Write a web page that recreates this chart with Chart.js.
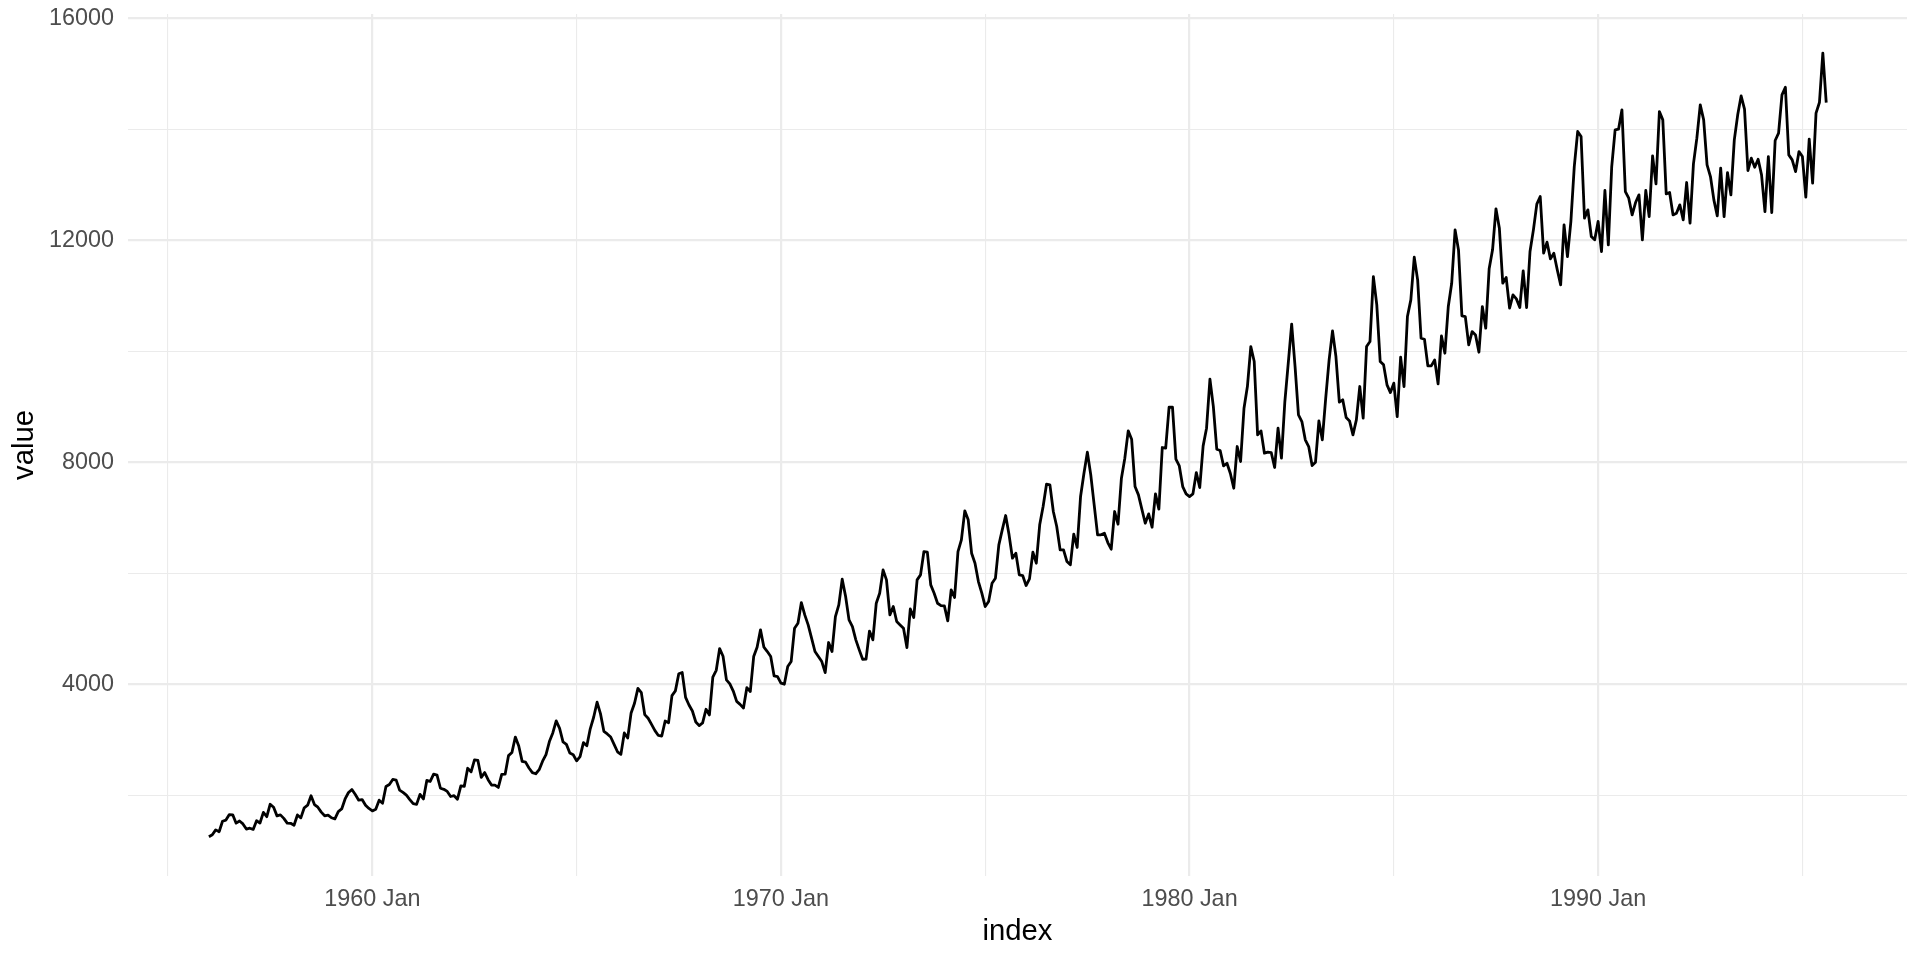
<!DOCTYPE html>
<html>
<head>
<meta charset="utf-8">
<script src="https://cdn.jsdelivr.net/npm/chart.js@4.4.1/dist/chart.umd.min.js"></script>
<style>
  html, body { margin: 0; padding: 0; background: #ffffff; }
  #wrap { width: 1920px; height: 960px; }
</style>
</head>
<body>
<div id="wrap"><canvas id="c" width="1920" height="960"></canvas></div>
<script>
// Monthly series, starting January 1956
const startYear = 1956;
const elecValues = [
  1254, 1290, 1379, 1346, 1535, 1555, 1655, 1651, 1500, 1538, 1486, 1394,
  1409, 1387, 1543, 1502, 1693, 1616, 1841, 1787, 1631, 1649, 1586, 1500,
  1497, 1463, 1648, 1595, 1777, 1824, 1994, 1835, 1787, 1699, 1633, 1645,
  1597, 1577, 1709, 1756, 1936, 2052, 2105, 2016, 1914, 1925, 1824, 1765,
  1721, 1752, 1914, 1857, 2159, 2195, 2287, 2276, 2096, 2055, 2004, 1924,
  1851, 1839, 2019, 1937, 2270, 2251, 2382, 2364, 2129, 2110, 2072, 1980,
  1995, 1932, 2171, 2162, 2489, 2424, 2641, 2630, 2324, 2412, 2284, 2186,
  2184, 2144, 2379, 2383, 2717, 2774, 3051, 2891, 2613, 2600, 2493, 2410,
  2390, 2463, 2616, 2734, 2970, 3125, 3342, 3207, 2964, 2919, 2764, 2732,
  2622, 2698, 2950, 2895, 3200, 3408, 3679, 3473, 3154, 3107, 3052, 2918,
  2786, 2739, 3125, 3033, 3486, 3661, 3927, 3851, 3456, 3390, 3280, 3166,
  3080, 3069, 3340, 3310, 3798, 3883, 4191, 4213, 3766, 3628, 3520, 3323,
  3257, 3305, 3552, 3450, 4131, 4254, 4645, 4507, 4081, 4010, 3880, 3693,
  3640, 3575, 3943, 3871, 4502, 4670, 4982, 4670, 4592, 4502, 4153, 4141,
  4021, 4003, 4321, 4411, 5012, 5102, 5474, 5252, 5072, 4832, 4592, 4502,
  4411, 4213, 4754, 4592, 5222, 5432, 5895, 5582, 5162, 5042, 4802, 4622,
  4453, 4455, 4960, 4802, 5462, 5643, 6063, 5883, 5252, 5402, 5132, 5072,
  5012, 4664, 5360, 5204, 5883, 5973, 6393, 6381, 5793, 5643, 5462, 5420,
  5414, 5144, 5703, 5565, 6393, 6603, 7126, 6964, 6363, 6183, 5853, 5643,
  5402, 5492, 5823, 5913, 6513, 6784, 7042, 6694, 6273, 6363, 5973, 5961,
  5781, 5901, 6381, 6183, 6874, 7204, 7606, 7594, 7114, 6844, 6423, 6423,
  6213, 6153, 6706, 6466, 7384, 7804, 8183, 7774, 7234, 6694, 6694, 6724,
  6555, 6435, 7114, 6885, 7714, 8075, 8567, 8417, 7564, 7414, 7156, 6903,
  7072, 6831, 7432, 7156, 8267, 8255, 8993, 8993, 8057, 7936, 7564, 7432,
  7384, 7432, 7816, 7546, 8297, 8615, 9498, 9005, 8237, 8213, 7936, 7984,
  7800, 7534, 8285, 8015, 8975, 9366, 10086, 9816, 8495, 8567, 8165, 8183,
  8177, 7907, 8615, 8075, 9096, 9786, 10489, 9726, 8855, 8735, 8405, 8285,
  7943, 8003, 8747, 8405, 9156, 9846, 10369, 9906, 9084, 9126, 8807, 8747,
  8495, 8765, 9366, 8795, 10086, 10176, 11347, 10837, 9816, 9756, 9396, 9257,
  9426, 8825, 9894, 9366, 10627, 10927, 11695, 11287, 10236, 10218, 9738, 9738,
  9846, 9414, 10278, 9966, 10807, 11227, 12188, 11827, 10638, 10626, 10116, 10356,
  10296, 9984, 10807, 10417, 11486, 11828, 12567, 12218, 11227, 11330, 10777, 11017,
  10945, 10789, 11450, 10789, 11798, 12188, 12651, 12789, 11768, 11966, 11666, 11768,
  11468, 11197, 12278, 11708, 12338, 13329, 13960, 13870, 12398, 12549, 12068, 12008,
  12340, 11798, 12897, 11918, 13329, 13990, 14002, 14350, 12879, 12759, 12458, 12681,
  12819, 12008, 12897, 12429, 13521, 13017, 14320, 14170, 12837, 12861, 12458, 12488,
  12638, 12368, 13041, 12308, 13377, 13840, 14440, 14170, 13359, 13149, 12729, 12440,
  13299, 12428, 13221, 12819, 13810, 14260, 14602, 14362, 13257, 13479, 13317, 13461,
  13179, 12518, 13509, 12500, 13798, 13930, 14620, 14758, 13539, 13449, 13239, 13599,
  13509, 12777, 13822, 13029, 14290, 14482, 15371, 14482
];

// Axis ticks
const xTickValues = [1955, 1960, 1965, 1970, 1975, 1980, 1985, 1990, 1995];
const xTickLabels = ['', '1960 Jan', '', '1970 Jan', '', '1980 Jan', '', '1990 Jan', ''];
const yTickValues = [2000, 4000, 6000, 8000, 10000, 12000, 14000, 16000];
const yTickLabels = ['', '4000', '', '8000', '', '12000', '', '16000'];

// Axis limits (data range plus 5% expansion on each side)
const xMin = 1954.02, xMax = 1997.56;
const yMin = 548, yMax = 16077;

const points = elecValues.map((v, i) => ({ x: startYear + i / 12, y: v }));

const tickFont = { family: "'Liberation Sans', Arial, sans-serif", size: 23.4 };
const titleFont = { family: "'Liberation Sans', Arial, sans-serif", size: 29.3 };

function noOverhang(s) {
  s.paddingTop = 0; s.paddingBottom = 0; s.paddingLeft = 0; s.paddingRight = 0;
}

new Chart(document.getElementById('c'), {
  type: 'line',
  data: {
    datasets: [{
      data: points,
      borderColor: '#000000',
      borderWidth: 2.8,
      pointRadius: 0,
      tension: 0,
      fill: false,
      borderJoinStyle: 'round'
    }]
  },
  options: {
    responsive: false,
    animation: false,
    devicePixelRatio: 1,
    layout: { padding: { left: 0, right: 13, top: 14, bottom: 0 } },
    plugins: { legend: { display: false }, tooltip: { enabled: false } },
    scales: {
      x: {
        type: 'linear',
        min: xMin, max: xMax,
        afterBuildTicks: ax => { ax.ticks = xTickValues.map(v => ({ value: v })); },
        afterFit: s => { s.height = 84; noOverhang(s); },
        border: { display: false },
        grid: {
          color: '#EBEBEB',
          drawTicks: false,
          lineWidth: ctx => (ctx.tick && ctx.tick.value % 10 === 0) ? 2.2 : 1.1
        },
        ticks: {
          autoSkip: false, maxRotation: 0, padding: 10,
          color: '#4D4D4D', font: tickFont,
          callback: (v, i) => xTickLabels[i]
        },
        title: {
          display: true, text: 'index', color: '#000000', font: titleFont,
          padding: { top: 0, bottom: 11 }
        }
      },
      y: {
        type: 'linear',
        min: yMin, max: yMax,
        afterBuildTicks: ax => { ax.ticks = yTickValues.map(v => ({ value: v })); },
        afterFit: s => { s.width = 128; noOverhang(s); },
        border: { display: false },
        grid: {
          color: '#EBEBEB',
          drawTicks: false,
          lineWidth: ctx => (ctx.tick && ctx.tick.value % 4000 === 0) ? 2.2 : 1.1
        },
        ticks: {
          autoSkip: false, padding: 14,
          color: '#4D4D4D', font: tickFont,
          callback: (v, i) => yTickLabels[i]
        },
        title: {
          display: true, text: 'value', color: '#000000', font: titleFont,
          padding: { top: 7, bottom: 0 }
        }
      }
    }
  }
});
</script>
</body>
</html>
